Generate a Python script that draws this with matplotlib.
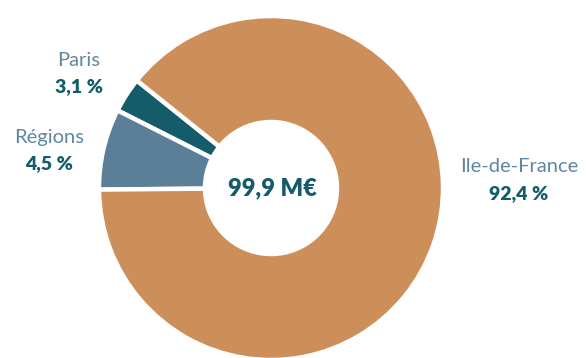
import matplotlib
matplotlib.use("Agg")
import matplotlib.pyplot as plt

# Data
categories = ["Paris", "Régions", "Ile-de-France"]
shares_drawn = [3.3, 7.6, 89.1]          # slice sizes as drawn in the reference
share_labels = ["3,1 %", "4,5 %", "92,4 %"]
total_label = "99,9 M€"

colors = ["#145C69", "#5A7F97", "#CD8F5A"]
name_color = "#5F87A1"
value_color = "#145C69"

W, H = 586, 358
fig = plt.figure(figsize=(W / 100, H / 100), dpi=100)
ax = fig.add_axes([0, 0, 1, 1])

cx, cy = 271, H - 188
R, r_in = 172, 66
ax.pie(shares_drawn, colors=colors, startangle=141.3, counterclock=True,
       center=(cx, cy), radius=R, frame=True,
       wedgeprops=dict(width=R - r_in, edgecolor="white", linewidth=3.2))
ax.set_xlim(0, W)
ax.set_ylim(0, H)
ax.set_aspect("equal")
ax.axis("off")

font = "Lato"
label_pos = {"Paris": (79, H - 60), "Régions": (49, H - 137), "Ile-de-France": (519, H - 167)}
for name, lab in zip(categories, share_labels):
    x, y = label_pos[name]
    ax.text(x, y, name, ha="center", va="center", fontsize=14.5, color=name_color, family=font)
    ax.text(x, y - 27, lab, ha="center", va="center", fontsize=14, color=value_color,
            family=font, fontweight="heavy")

ax.text(cx + 1, cy, total_label, ha="center", va="center", fontsize=17,
        color=value_color, family=font, fontweight="heavy")

fig.savefig("out.png", dpi=100)
